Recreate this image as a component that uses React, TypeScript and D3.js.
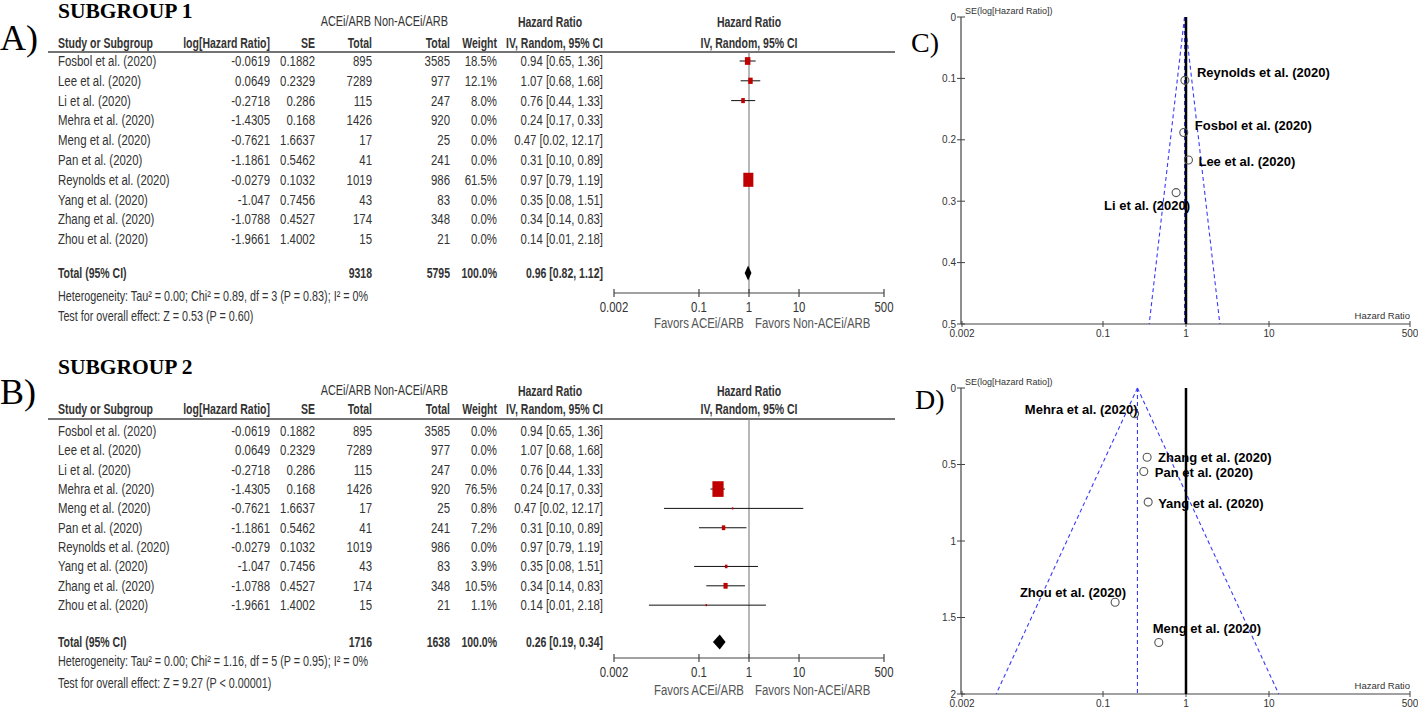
import React from "react";
import * as d3 from "d3";

// ---------- DATA ----------
const studies = [
  "Fosbol et al. (2020)",
  "Lee et al. (2020)",
  "Li et al. (2020)",
  "Mehra et al. (2020)",
  "Meng et al. (2020)",
  "Pan et al. (2020)",
  "Reynolds et al. (2020)",
  "Yang et al. (2020)",
  "Zhang et al. (2020)",
  "Zhou et al. (2020)",
];
const logHRText = ["-0.0619", "0.0649", "-0.2718", "-1.4305", "-0.7621", "-1.1861", "-0.0279", "-1.047", "-1.0788", "-1.9661"];
const seText = ["0.1882", "0.2329", "0.286", "0.168", "1.6637", "0.5462", "0.1032", "0.7456", "0.4527", "1.4002"];
const seValues = [0.1882, 0.2329, 0.286, 0.168, 1.6637, 0.5462, 0.1032, 0.7456, 0.4527, 1.4002];
const totalACE = [895, 7289, 115, 1426, 17, 41, 1019, 43, 174, 15];
const totalNon = [3585, 977, 247, 920, 25, 241, 986, 83, 348, 21];
const hrValues = [0.94, 1.07, 0.76, 0.24, 0.47, 0.31, 0.97, 0.35, 0.34, 0.14];
const ciLow = [0.65, 0.68, 0.44, 0.17, 0.02, 0.1, 0.79, 0.08, 0.14, 0.01];
const ciHigh = [1.36, 1.68, 1.33, 0.33, 12.17, 0.89, 1.19, 1.51, 0.83, 2.18];
const weights1 = [18.5, 12.1, 8.0, 0, 0, 0, 61.5, 0, 0, 0];
const weights2 = [0, 0, 0, 76.5, 0.8, 7.2, 0, 3.9, 10.5, 1.1];

const total1 = { ace: 9318, non: 5795, hr: 0.96, lo: 0.82, hi: 1.12 };
const total2 = { ace: 1716, non: 1638, hr: 0.26, lo: 0.19, hi: 0.34 };
const het1 = "Heterogeneity: Tau² = 0.00; Chi² = 0.89, df = 3 (P = 0.83); I² = 0%";
const test1 = "Test for overall effect: Z = 0.53 (P = 0.60)";
const het2 = "Heterogeneity: Tau² = 0.00; Chi² = 1.16, df = 5 (P = 0.95); I² = 0%";
const test2 = "Test for overall effect: Z = 9.27 (P < 0.00001)";

const xTicks = [0.002, 0.1, 1, 10, 500];
const xTickLabels = ["0.002", "0.1", "1", "10", "500"];
const funnelTicksC = [0, 0.1, 0.2, 0.3, 0.4, 0.5];
const funnelTicksD = [0, 0.5, 1, 1.5, 2];

// funnel label placement (offsets from point, px)
const labelsC = [
  { i: 6, dx: 12, dy: -8, anchor: "start" },
  { i: 0, dx: 11, dy: -7, anchor: "start" },
  { i: 1, dx: 10, dy: 1, anchor: "start" },
  { i: 2, dx: 14, dy: 13, anchor: "end" },
];
const labelsD = [
  { i: 3, dx: 3, dy: -4, anchor: "end" },
  { i: 8, dx: 11, dy: 0, anchor: "start" },
  { i: 5, dx: 11, dy: 1, anchor: "start" },
  { i: 7, dx: 10, dy: 1, anchor: "start" },
  { i: 9, dx: 11, dy: -10, anchor: "end" },
  { i: 4, dx: -6, dy: -14, anchor: "start" },
];

// ---------- STYLE ----------
const SANS = "'Liberation Sans', Arial, sans-serif";
const SERIF = "'Liberation Serif', 'Times New Roman', serif";
const TXT = "#333";
const RED = "#c00000";
const BLUE = "#3a3aff";
const SX = 0.815; // horizontal condensing to imitate a narrow face
const SXB = 0.75; // condensing for bold narrow text
const FS = 14;

const fmt2 = (v: number) => v.toFixed(2);

function T({ x, y, anchor = "start", bold = false, fill = TXT, size = FS, sx, children }: any) {
  const s = sx ?? (bold ? SXB : SX);
  return (
    <text
      transform={`scale(${s},1)`}
      x={x / s}
      y={y}
      textAnchor={anchor}
      dominantBaseline="central"
      fontFamily={SANS}
      fontSize={size}
      fontWeight={bold ? "bold" : "normal"}
      fill={fill}
    >
      {children}
    </text>
  );
}

type ForestLayout = {
  title: string;
  letter: string;
  titleY: number;
  letterY: number;
  hdr1: number;
  hdr2: number;
  line: number;
  row0: number;
  step: number;
  totalY: number;
  axisY: number;
  tickY: number;
  favY: number;
  hetY: number;
  testY: number;
};

function Forest({ L, weights, total, het, test }: { L: ForestLayout; weights: number[]; total: any; het: string; test: string }) {
  const x = d3.scaleLog().domain([0.002, 500]).range([614, 884]);
  const colR = { log: 270, se: 315, t1: 372, t2: 450, w: 497, ci: 603 };
  const rowY = (i: number) => L.row0 + i * L.step;
  const hrS = (i: number) => `${fmt2(hrValues[i])} [${fmt2(ciLow[i])}, ${fmt2(ciHigh[i])}]`;
  const dW = 7.5;
  return (
    <g>
      <text x={58} y={L.titleY} fontFamily={SERIF} fontWeight="bold" fontSize={21.5} fill="#000">{L.title}</text>
      <text x={0} y={L.letterY} fontFamily={SERIF} fontSize={36} fill="#000">{L.letter}</text>
      {/* headers */}
      <T x={371} y={L.hdr1} anchor="end" sx={0.78}>ACEi/ARB</T>
      <T x={448} y={L.hdr1} anchor="end" sx={0.78}>Non-ACEi/ARB</T>
      <T x={550} y={L.hdr1} anchor="middle" bold>Hazard Ratio</T>
      <T x={749} y={L.hdr1} anchor="middle" bold>Hazard Ratio</T>
      <T x={58} y={L.hdr2} bold>Study or Subgroup</T>
      <T x={colR.log} y={L.hdr2} anchor="end" bold>log[Hazard Ratio]</T>
      <T x={colR.se} y={L.hdr2} anchor="end" bold>SE</T>
      <T x={colR.t1} y={L.hdr2} anchor="end" bold>Total</T>
      <T x={colR.t2} y={L.hdr2} anchor="end" bold>Total</T>
      <T x={colR.w} y={L.hdr2} anchor="end" bold>Weight</T>
      <T x={colR.ci} y={L.hdr2} anchor="end" bold>IV, Random, 95% CI</T>
      <T x={749} y={L.hdr2} anchor="middle" bold>IV, Random, 95% CI</T>
      <line x1={48} x2={895} y1={L.line} y2={L.line} stroke="#444" strokeWidth={1.5} />
      {/* rows */}
      {studies.map((s, i) => (
        <g key={s}>
          <T x={58} y={rowY(i)}>{s}</T>
          <T x={colR.log} y={rowY(i)} anchor="end">{logHRText[i]}</T>
          <T x={colR.se} y={rowY(i)} anchor="end">{seText[i]}</T>
          <T x={colR.t1} y={rowY(i)} anchor="end">{totalACE[i]}</T>
          <T x={colR.t2} y={rowY(i)} anchor="end">{totalNon[i]}</T>
          <T x={colR.w} y={rowY(i)} anchor="end">{weights[i].toFixed(1) + "%"}</T>
          <T x={colR.ci} y={rowY(i)} anchor="end">{hrS(i)}</T>
        </g>
      ))}
      <T x={58} y={L.totalY} bold>Total (95% CI)</T>
      <T x={colR.t1} y={L.totalY} anchor="end" bold>{total.ace}</T>
      <T x={colR.t2} y={L.totalY} anchor="end" bold>{total.non}</T>
      <T x={colR.w} y={L.totalY} anchor="end" bold>100.0%</T>
      <T x={colR.ci} y={L.totalY} anchor="end" bold>{`${fmt2(total.hr)} [${fmt2(total.lo)}, ${fmt2(total.hi)}]`}</T>
      <T x={58} y={L.hetY} sx={0.77}>{het}</T>
      <T x={58} y={L.testY} sx={0.77}>{test}</T>
      {/* forest */}
      <line x1={x(1)} x2={x(1)} y1={L.line} y2={L.axisY} stroke="#888" strokeWidth={1.2} />
      {studies.map((s, i) => {
        if (weights[i] <= 0) return null;
        const w = Math.max(1.5, 1.28 * Math.sqrt(weights[i]));
        const h = w * 1.4;
        const cy = rowY(i);
        return (
          <g key={"f" + s}>
            <line x1={x(ciLow[i])} x2={x(ciHigh[i])} y1={cy} y2={cy} stroke="#111" strokeWidth={1} />
            <rect x={x(hrValues[i]) - w / 2} y={cy - h / 2} width={w} height={h} fill={RED} />
          </g>
        );
      })}
      <path
        d={`M${x(total.lo)},${L.totalY} L${x(total.hr)},${L.totalY - dW} L${x(total.hi)},${L.totalY} L${x(total.hr)},${L.totalY + dW} Z`}
        fill="#000"
      />
      {/* axis */}
      <line x1={x(0.002)} x2={x(500)} y1={L.axisY} y2={L.axisY} stroke="#444" strokeWidth={1.2} />
      {xTicks.map((t, k) => (
        <g key={"t" + t}>
          <line x1={x(t)} x2={x(t)} y1={L.axisY - 4} y2={L.axisY + 4} stroke="#444" strokeWidth={1.2} />
          <T x={x(t)} y={L.tickY} anchor="middle">{xTickLabels[k]}</T>
        </g>
      ))}
      <T x={744} y={L.favY} anchor="end" fill="#555">Favors ACEi/ARB</T>
      <T x={755} y={L.favY} fill="#555">Favors Non-ACEi/ARB</T>
    </g>
  );
}

type FunnelLayout = {
  letter: string;
  letterX: number;
  letterY: number;
  top: number;
  bottom: number;
  maxSE: number;
  ticks: number[];
  pooled: number;
  idx: number[];
  labels: { i: number; dx: number; dy: number; anchor: string }[];
};

function Funnel({ L }: { L: FunnelLayout }) {
  const x = d3.scaleLog().domain([0.002, 500]).range([962, 1410]);
  const y = d3.scaleLinear().domain([0, L.maxSE]).range([L.top, L.bottom]);
  const ax = 961;
  const z = 1.96;
  const lo = L.pooled * Math.exp(-z * L.maxSE);
  const hi = L.pooled * Math.exp(z * L.maxSE);
  return (
    <g>
      <text x={L.letterX} y={L.letterY} fontFamily={SERIF} fontSize={28} fill="#000">{L.letter}</text>
      <T x={965} y={L.top - 6} size={9} sx={1}>SE(log[Hazard Ratio])</T>
      {/* axes */}
      <line x1={ax} x2={ax} y1={L.top} y2={L.bottom} stroke="#444" strokeWidth={1.2} />
      <line x1={ax} x2={1410} y1={L.bottom} y2={L.bottom} stroke="#444" strokeWidth={1.2} />
      {L.ticks.map((t) => (
        <g key={"y" + t}>
          <line x1={ax - 4} x2={ax + 4} y1={y(t)} y2={y(t)} stroke="#444" strokeWidth={1} />
          <T x={ax - 5} y={y(t)} anchor="end" size={10} sx={1}>{String(t)}</T>
        </g>
      ))}
      {xTicks.map((t, k) => (
        <g key={"x" + t}>
          <line x1={x(t)} x2={x(t)} y1={L.bottom - 3} y2={L.bottom + 3} stroke="#444" strokeWidth={1} />
          <T x={x(t)} y={L.bottom + 9} anchor="middle" size={10} sx={1}>{xTickLabels[k]}</T>
        </g>
      ))}
      <T x={1410} y={L.bottom - 9} anchor="end" size={9.5} sx={1}>Hazard Ratio</T>
      {/* funnel */}
      <g stroke={BLUE} strokeWidth={1.1} strokeDasharray="4,3" fill="none">
        <line x1={x(L.pooled)} y1={y(0)} x2={x(lo)} y2={y(L.maxSE)} />
        <line x1={x(L.pooled)} y1={y(0)} x2={x(hi)} y2={y(L.maxSE)} />
        <line x1={x(L.pooled)} y1={y(0)} x2={x(L.pooled)} y2={y(L.maxSE)} />
      </g>
      <line x1={x(1)} x2={x(1)} y1={y(0)} y2={y(L.maxSE)} stroke="#000" strokeWidth={2.5} />
      {L.idx.map((i) => (
        <circle key={"c" + i} cx={x(hrValues[i])} cy={y(seValues[i])} r={4} fill="none" stroke="#555" strokeWidth={1.1} />
      ))}
      {L.labels.map((lb) => (
        <T
          key={"l" + lb.i}
          x={x(hrValues[lb.i]) + lb.dx}
          y={y(seValues[lb.i]) + lb.dy}
          anchor={lb.anchor}
          bold
          fill="#000"
          size={13}
          sx={1}
        >
          {studies[lb.i]}
        </T>
      ))}
    </g>
  );
}

const layoutA: ForestLayout = {
  title: "SUBGROUP 1", letter: "A)", titleY: 18, letterY: 50,
  hdr1: 22, hdr2: 43, line: 52, row0: 61, step: 19.8, totalY: 273,
  axisY: 293, tickY: 307, favY: 323, hetY: 297, testY: 317,
};
const layoutB: ForestLayout = {
  title: "SUBGROUP 2", letter: "B)", titleY: 374, letterY: 404,
  hdr1: 391, hdr2: 409, line: 419, row0: 431, step: 19.35, totalY: 642,
  axisY: 658, tickY: 672, favY: 690, hetY: 662, testY: 684,
};
const layoutC: FunnelLayout = {
  letter: "C)", letterX: 911, letterY: 52, top: 17, bottom: 324, maxSE: 0.5,
  ticks: funnelTicksC, pooled: total1.hr, idx: [0, 1, 2, 6], labels: labelsC,
};
const layoutD: FunnelLayout = {
  letter: "D)", letterX: 915, letterY: 409, top: 388, bottom: 694, maxSE: 2,
  ticks: funnelTicksD, pooled: total2.hr, idx: [3, 4, 5, 7, 8, 9], labels: labelsD,
};

export default function App() {
  return (
    <svg width={1418} height={707} style={{ position: "absolute", left: 0, top: 0, background: "#fff" }}>
      <rect width={1418} height={707} fill="#fff" />
      <Forest L={layoutA} weights={weights1} total={total1} het={het1} test={test1} />
      <Forest L={layoutB} weights={weights2} total={total2} het={het2} test={test2} />
      <Funnel L={layoutC} />
      <Funnel L={layoutD} />
    </svg>
  );
}
